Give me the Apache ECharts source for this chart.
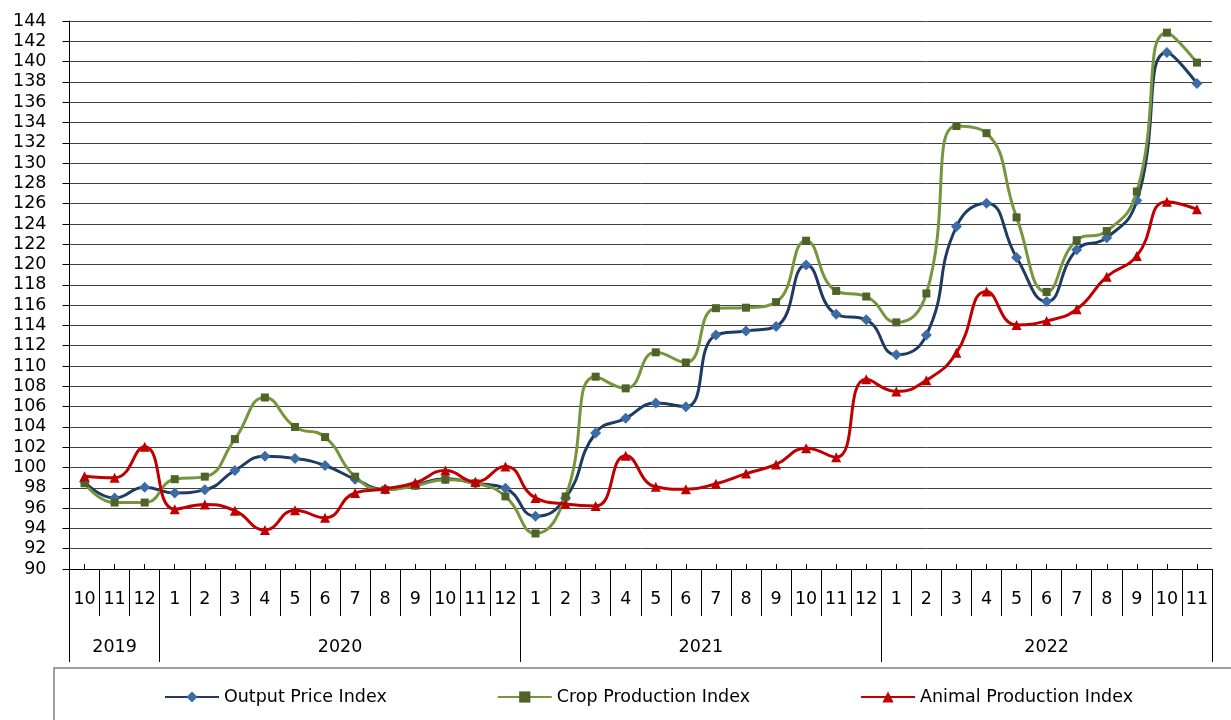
<!DOCTYPE html>
<html><head><meta charset="utf-8">
<script src="https://cdn.jsdelivr.net/npm/echarts@6/dist/echarts.min.js"></script>
<style>html,body{margin:0;padding:0;background:#fff}#c{width:1231px;height:720px}</style>
</head><body><div id="c"></div>
<script>
// ---- data ----
const months = ['10','11','12','1','2','3','4','5','6','7','8','9','10','11','12','1','2','3','4','5','6','7','8','9','10','11','12','1','2','3','4','5','6','7','8','9','10','11'];
const yearLabels = ['2019','2020','2021','2022'];
const yearMonthCounts = [3, 12, 12, 11];
const outputPrice = [98.6, 97.0, 98.05, 97.5, 97.8, 99.7, 101.1, 100.9, 100.2, 98.85, 97.85, 98.3, 98.9, 98.45, 97.95, 95.2, 97.0, 103.4, 104.85, 106.35, 106.0, 113.05, 113.45, 113.9, 119.95, 115.1, 114.55, 111.1, 113.05, 123.75, 126.05, 120.7, 116.35, 121.45, 122.65, 126.3, 140.9, 137.85];
const cropProduction = [98.45, 96.55, 96.55, 98.85, 99.1, 102.8, 106.9, 104.0, 103.0, 99.1, 97.8, 98.2, 98.8, 98.45, 97.15, 93.5, 97.15, 108.95, 107.8, 111.35, 110.35, 115.7, 115.75, 116.3, 122.35, 117.4, 116.85, 114.3, 117.15, 133.65, 132.95, 124.65, 117.3, 122.4, 123.3, 127.2, 142.85, 139.9];
const animalProduction = [99.15, 99.0, 102.05, 95.9, 96.35, 95.75, 93.85, 95.8, 95.05, 97.5, 97.9, 98.5, 99.7, 98.6, 100.1, 97.0, 96.4, 96.2, 101.15, 98.1, 97.85, 98.4, 99.4, 100.3, 101.9, 101.0, 108.7, 107.5, 108.6, 111.3, 117.35, 114.05, 114.45, 115.6, 118.8, 120.85, 126.2, 125.45];
const seriesNames = ['Output Price Index', 'Crop Production Index', 'Animal Production Index'];
const yMin = 90, yMax = 144, yStep = 2;

// ---- derived helpers ----
const yearStarts = [];
const yearCenters = {};
let acc = 0;
yearMonthCounts.forEach((n, i) => { yearStarts.push(acc); yearCenters[(acc + n / 2).toFixed(1)] = yearLabels[i]; acc += n; });
const FONT = 'DejaVu Sans';
const FS = 17.5;

const chart = echarts.init(document.getElementById('c'), null, {renderer: 'canvas'});
const grid = {left: 69.5, right: 19, top: 21, bottom: 151, containLabel: false};

const option = {
  animation: false,
  backgroundColor: '#fff',
  grid: grid,
  legend: {
    left: 54, top: 668, width: 1400,
    padding: [19, 160, 40, 110],
    borderColor: '#7f7f7f', borderWidth: 1.5,
    itemWidth: 54, itemHeight: 14, itemGap: 110,
    textStyle: {fontFamily: FONT, fontSize: FS, color: '#000', lineHeight: 20},
    data: seriesNames
  },
  xAxis: [
    { // month labels + month separators
      type: 'category', data: months, gridIndex: 0, position: 'bottom',
      boundaryGap: true,
      axisLine: {show: true, lineStyle: {color: '#000', width: 1}},
      axisTick: {show: true, interval: 0, length: 47, inside: false, lineStyle: {color: '#000', width: 1}},
      axisLabel: {interval: 0, margin: 21, fontFamily: FONT, fontSize: FS, color: '#000'},
      splitLine: {show: false}
    },
    { // year separators
      type: 'category', data: months, gridIndex: 0, position: 'bottom',
      boundaryGap: true,
      axisLine: {show: false},
      axisTick: {show: true, length: 93, inside: false, interval: (idx) => yearStarts.indexOf(idx) >= 0, lineStyle: {color: '#000', width: 1}},
      axisLabel: {show: false},
      splitLine: {show: false}
    },
    { // year labels
      type: 'value', min: 0, max: months.length, interval: 0.5, gridIndex: 0, position: 'bottom',
      axisLine: {show: false}, axisTick: {show: false}, splitLine: {show: false},
      axisLabel: {margin: 69, fontFamily: FONT, fontSize: FS, color: '#000',
        formatter: (v) => yearCenters[v.toFixed(1)] || ''}
    },
    { // small inner ticks at category centers
      type: 'category', data: months, gridIndex: 0, position: 'bottom',
      boundaryGap: true,
      axisLine: {show: false},
      axisTick: {show: true, alignWithLabel: true, interval: 0, inside: true, length: 5, lineStyle: {color: '#000', width: 1}},
      axisLabel: {show: false}, splitLine: {show: false}
    }
  ],
  yAxis: {
    type: 'value', min: yMin, max: yMax, interval: yStep,
    axisLine: {show: true, lineStyle: {color: '#000', width: 1}},
    axisTick: {show: true, length: 7, lineStyle: {color: '#000'}},
    axisLabel: {margin: 23, fontFamily: FONT, fontSize: FS, color: '#000'},
    splitLine: {show: true, lineStyle: {color: '#404040', width: 1}}
  },
  series: [
    {
      name: seriesNames[0], type: 'line', xAxisIndex: 0, data: outputPrice, smooth: 0.5,
      symbol: 'diamond', symbolSize: 11,
      lineStyle: {color: '#1F3B63', width: 3},
      itemStyle: {color: '#3D6BA5'}, z: 2
    },
    {
      name: seriesNames[1], type: 'line', xAxisIndex: 0, data: cropProduction, smooth: 0.5,
      symbol: 'rect', symbolSize: 8,
      lineStyle: {color: '#77953D', width: 3},
      itemStyle: {color: '#4F6228'}, z: 3
    },
    {
      name: seriesNames[2], type: 'line', xAxisIndex: 0, data: animalProduction, smooth: 0.5,
      symbol: 'triangle', symbolSize: 10,
      lineStyle: {color: '#C00000', width: 3},
      itemStyle: {color: '#C00000'}, z: 4
    }
  ]
};
chart.setOption(option);
</script></body></html>
